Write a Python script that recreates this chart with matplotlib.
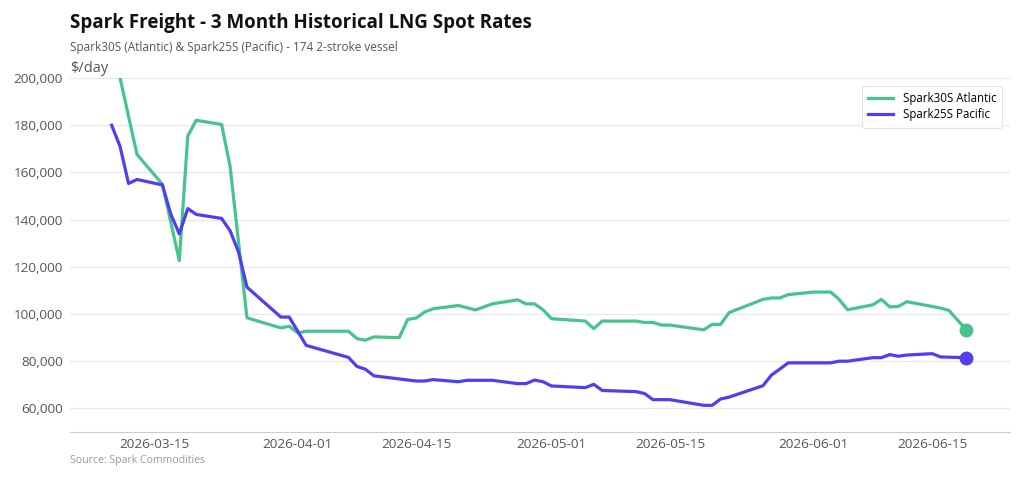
import pandas as pd
import matplotlib
matplotlib.use("Agg")
import matplotlib.pyplot as plt
import matplotlib.dates as mdates
from matplotlib.ticker import FuncFormatter

# ==========================================================
# Data
# ==========================================================

pacific_dates = [
    "2026-03-10", "2026-03-11", "2026-03-12", "2026-03-13", "2026-03-16",
    "2026-03-17", "2026-03-18", "2026-03-19", "2026-03-20", "2026-03-23",
    "2026-03-24", "2026-03-25", "2026-03-26", "2026-03-30", "2026-03-31",
    "2026-04-02", "2026-04-07", "2026-04-08", "2026-04-09", "2026-04-10",
    "2026-04-15", "2026-04-16", "2026-04-17", "2026-04-20", "2026-04-21",
    "2026-04-24", "2026-04-27", "2026-04-28", "2026-04-29", "2026-04-30",
    "2026-05-01", "2026-05-05", "2026-05-06", "2026-05-07", "2026-05-11",
    "2026-05-12", "2026-05-13", "2026-05-15", "2026-05-19", "2026-05-20",
    "2026-05-21", "2026-05-22", "2026-05-26", "2026-05-27", "2026-05-29",
    "2026-06-01", "2026-06-03", "2026-06-04", "2026-06-05", "2026-06-08",
    "2026-06-09", "2026-06-10", "2026-06-11", "2026-06-12", "2026-06-15",
    "2026-06-16", "2026-06-19",
]
pacific_rates = [
    180000, 171000, 155300, 157000, 154700,
    142300, 133900, 144700, 142200, 140500,
    135300, 126300, 111400, 98700, 98700,
    86700, 81600, 77800, 76600, 73800,
    71600, 71600, 72200, 71300, 71900,
    71900, 70500, 70500, 72000, 71300,
    69500, 68800, 70200, 67600, 67100,
    66300, 63700, 63700, 61300, 61300,
    64000, 64800, 69600, 74100, 79300,
    79300, 79300, 80000, 80000, 81500,
    81500, 82800, 82100, 82600, 83200,
    81800, 81500,
]

atlantic_dates = [
    "2026-03-11", "2026-03-13", "2026-03-16", "2026-03-18", "2026-03-19",
    "2026-03-20", "2026-03-23", "2026-03-24", "2026-03-26", "2026-03-27",
    "2026-03-30", "2026-03-31", "2026-04-01", "2026-04-02", "2026-04-07",
    "2026-04-08", "2026-04-09", "2026-04-10", "2026-04-13", "2026-04-14",
    "2026-04-15", "2026-04-16", "2026-04-17", "2026-04-20", "2026-04-22",
    "2026-04-24", "2026-04-27", "2026-04-28", "2026-04-29", "2026-04-30",
    "2026-05-01", "2026-05-05", "2026-05-06", "2026-05-07", "2026-05-11",
    "2026-05-12", "2026-05-13", "2026-05-14", "2026-05-15", "2026-05-19",
    "2026-05-20", "2026-05-21", "2026-05-22", "2026-05-26", "2026-05-27",
    "2026-05-28", "2026-05-29", "2026-06-01", "2026-06-03", "2026-06-04",
    "2026-06-05", "2026-06-08", "2026-06-09", "2026-06-10", "2026-06-11",
    "2026-06-12", "2026-06-15", "2026-06-16", "2026-06-17", "2026-06-19",
]
atlantic_rates = [
    200000, 167600, 155000, 122600, 175400,
    182100, 180300, 162700, 98400, 97300,
    94100, 94800, 92000, 92700, 92700,
    89600, 88900, 90300, 90000, 97700,
    98300, 100800, 102200, 103600, 101700,
    104300, 106000, 104300, 104300, 101800,
    98000, 97000, 93800, 97000, 97000,
    96400, 96400, 95300, 95300, 93300,
    95600, 95600, 100600, 106200, 106800,
    106800, 108200, 109300, 109300, 106200,
    101800, 103900, 106200, 103000, 103200,
    105200, 103200, 102500, 101500, 93400,
]

tick_dates = ["2026-03-15", "2026-04-01", "2026-04-15", "2026-05-01",
              "2026-05-15", "2026-06-01", "2026-06-15"]
y_ticks = [60000, 80000, 100000, 120000, 140000, 160000, 180000, 200000]

GREEN = "#47C48C"
BLUE = "#4F3FF2"
FONT = "Open Sans"

plt.rcParams["font.family"] = [FONT, "DejaVu Sans"]

pacific = pd.Series(pacific_rates, index=pd.to_datetime(pacific_dates))
atlantic = pd.Series(atlantic_rates, index=pd.to_datetime(atlantic_dates))

# ==========================================================
# Plot
# ==========================================================

fig = plt.figure(figsize=(10.24, 4.8), dpi=100)
ax = fig.add_axes([0.0684, 0.1, 0.9176, 0.7375])

ax.plot(atlantic.index, atlantic.values, color=GREEN, lw=2.3,
        label="Spark30S Atlantic", solid_joinstyle="round", zorder=3)
ax.plot(pacific.index, pacific.values, color=BLUE, lw=2.3,
        label="Spark25S Pacific", solid_joinstyle="round", zorder=3)

# end-point markers
ax.plot(atlantic.index[-1], atlantic.values[-1], "o", color=GREEN, ms=9, zorder=4)
ax.plot(pacific.index[-1], pacific.values[-1], "o", color=BLUE, ms=9, zorder=4)

ax.set_xlim(pd.Timestamp("2026-03-05 02:00"), pd.Timestamp("2026-06-24 04:00"))
ax.set_ylim(50000, 200000)

ax.set_yticks(y_ticks)
ax.yaxis.set_major_formatter(FuncFormatter(lambda v, p: f"{int(v):,}"))
ax.set_xticks(pd.to_datetime(tick_dates))
ax.xaxis.set_major_formatter(mdates.DateFormatter("%Y-%m-%d"))

ax.tick_params(axis="both", length=0, labelcolor="#555555", labelsize=9.7)
ax.tick_params(axis="x", pad=4)
ax.tick_params(axis="y", pad=5)

ax.grid(axis="y", color="#e8e8e8", lw=0.9)
ax.set_axisbelow(True)
for side in ["left", "right", "top"]:
    ax.spines[side].set_visible(False)
ax.spines["bottom"].set_color("#cccccc")

leg = ax.legend(loc="upper right", bbox_to_anchor=(0.9985, 0.995), fontsize=8.3,
                frameon=True, fancybox=True, handlelength=2.2,
                borderpad=0.55, labelspacing=0.3)
leg.get_frame().set_edgecolor("#dddddd")
leg.get_frame().set_linewidth(0.8)

# ==========================================================
# Titles and notes
# ==========================================================

fig.text(0.0684, 0.953, "Spark Freight - 3 Month Historical LNG Spot Rates",
         fontsize=13.5, fontweight="bold", color="#111111", va="center")
fig.text(0.0684, 0.9, "Spark30S (Atlantic) & Spark25S (Pacific) - 174 2-stroke vessel",
         fontsize=8.5, color="#555555", va="center")
fig.text(0.0684, 0.857, r"\$/day", fontsize=10.5, color="#555555", va="center")
fig.text(0.0684, 0.041, "Source: Spark Commodities", fontsize=7.6, color="#999999",
         va="center")

plt.savefig("out.png", dpi=100)
